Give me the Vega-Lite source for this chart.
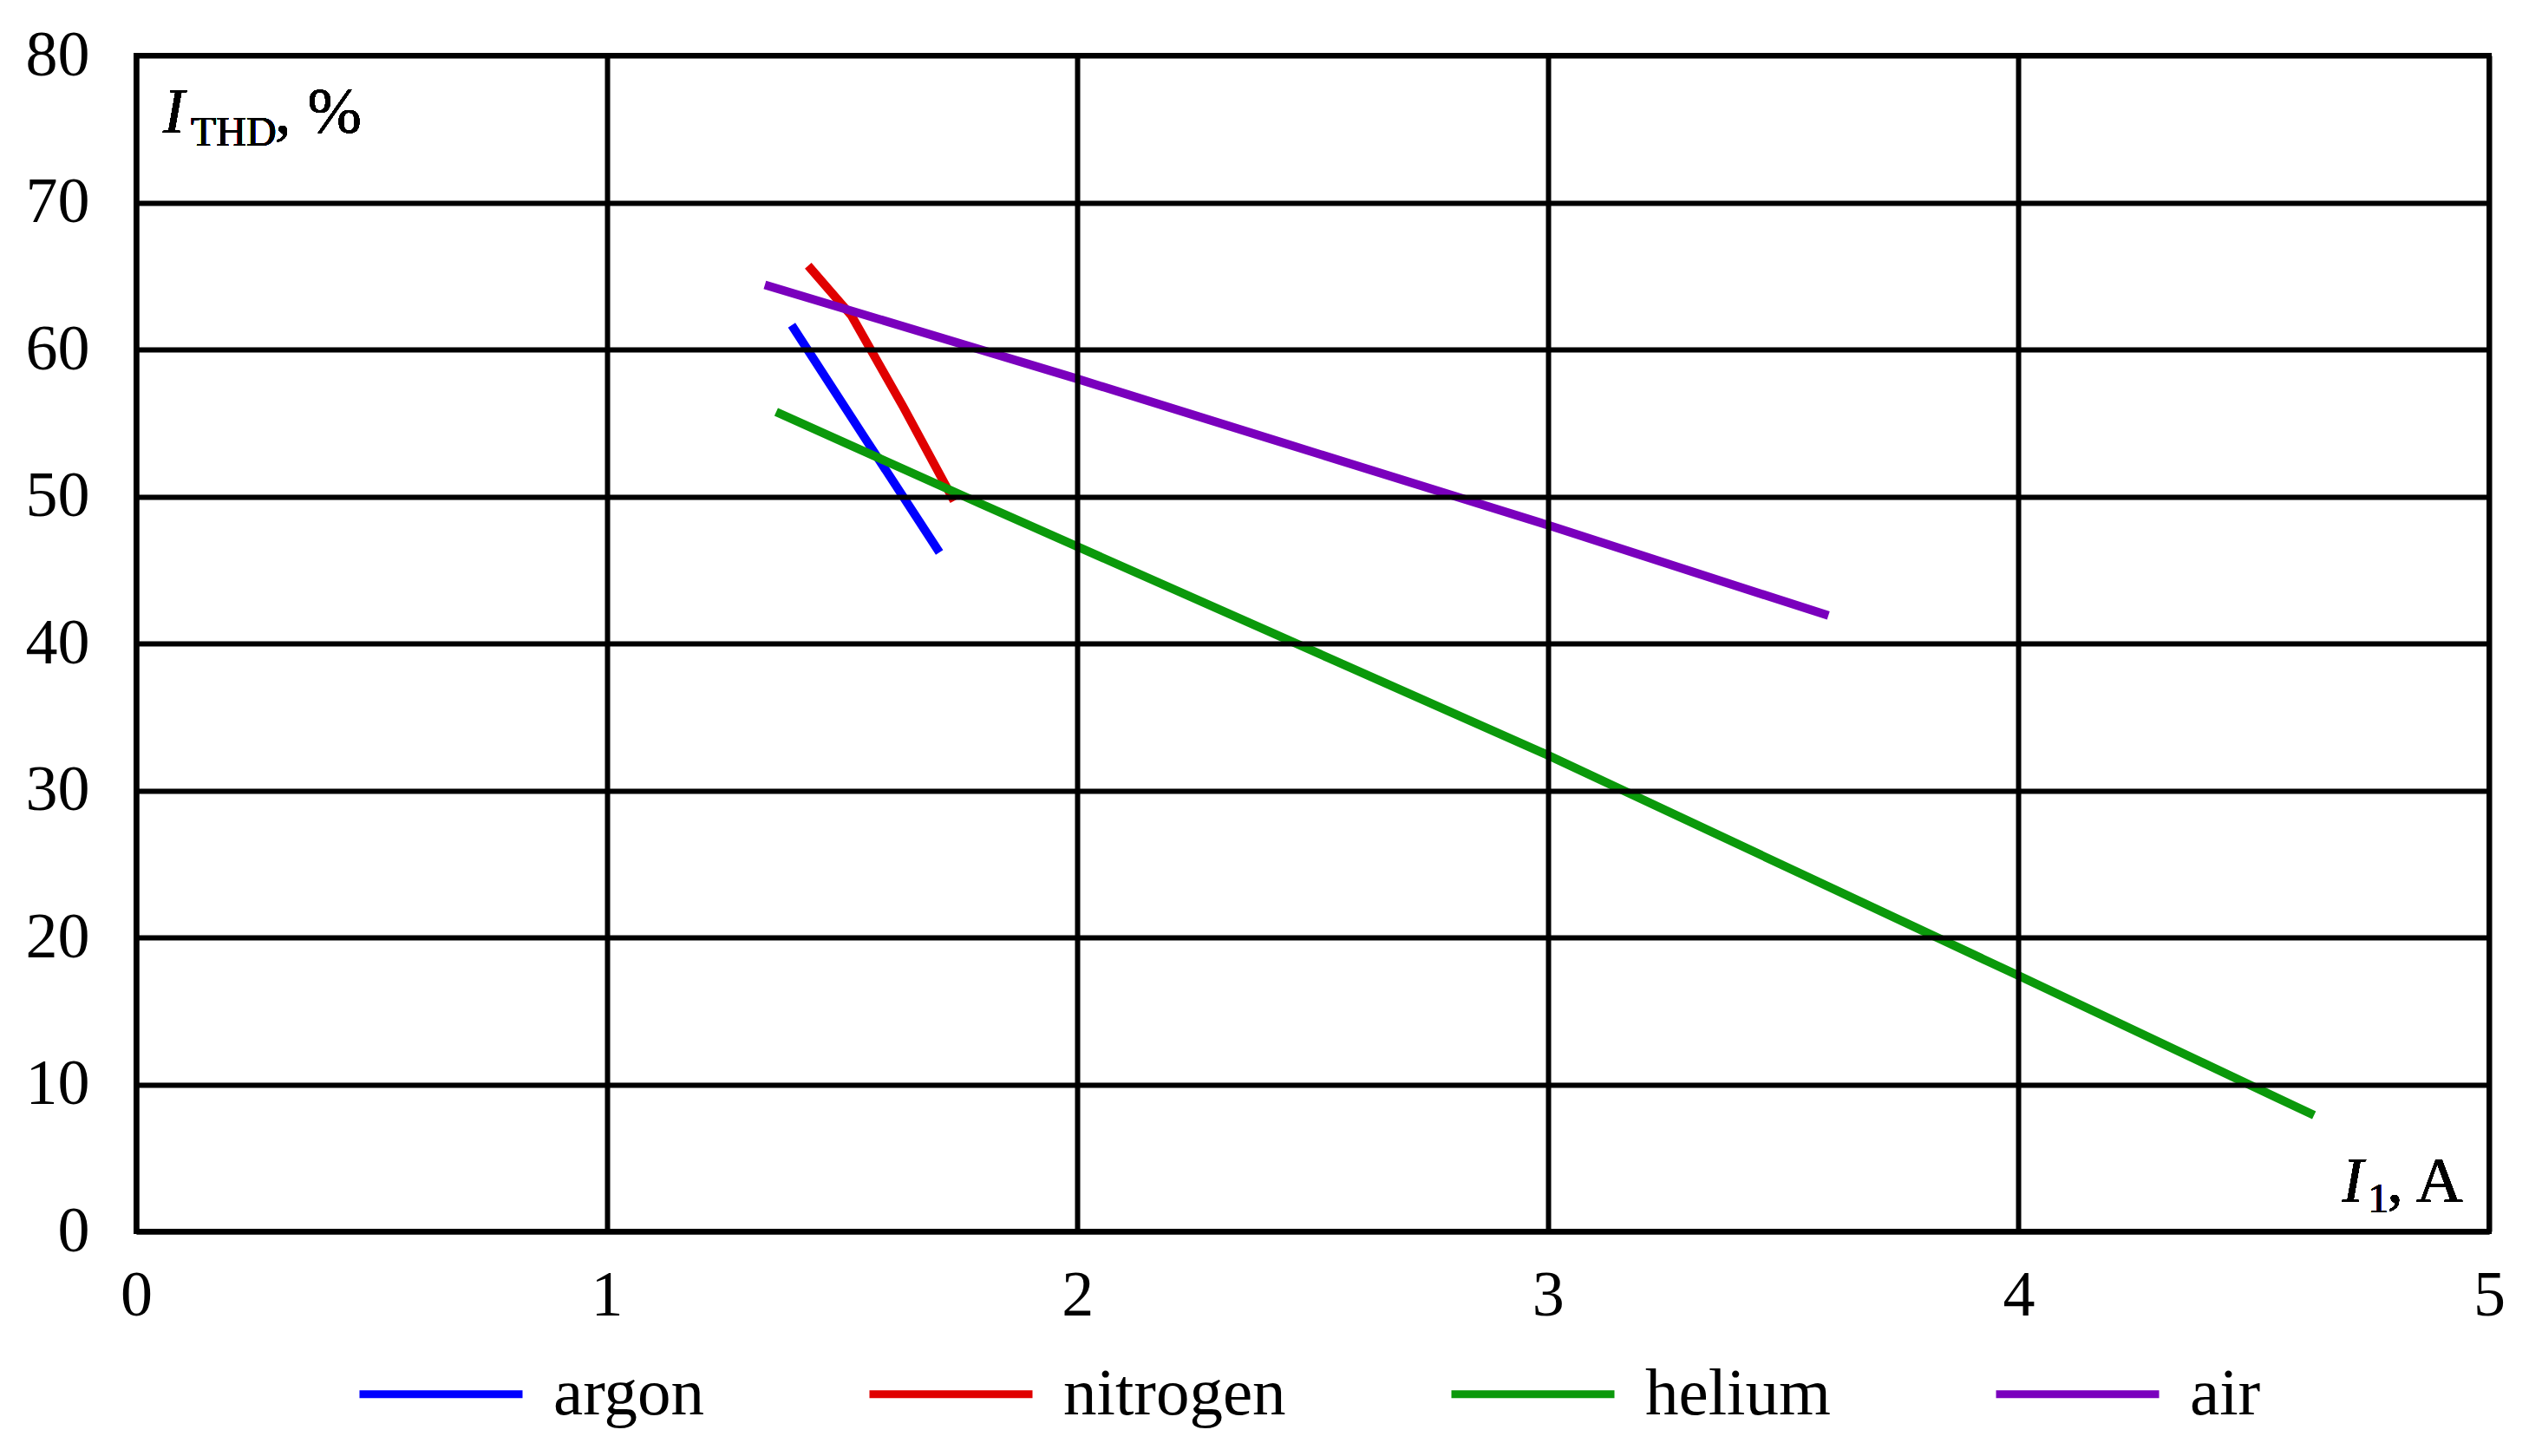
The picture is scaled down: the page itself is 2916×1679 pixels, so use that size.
{
  "$schema": "https://vega.github.io/schema/vega-lite/v6.json",
  "width": 2713,
  "height": 1356,
  "padding": {"left": 157, "top": 64, "right": 46, "bottom": 259},
  "autosize": {"type": "none"},
  "background": "white",
  "config": {
    "view": {"stroke": "black", "strokeWidth": 6},
    "font": "Liberation Serif"
  },
  "data": {
    "values": [
      {"gas": "argon", "I1": 1.393, "thd": 61.65},
      {"gas": "argon", "I1": 1.55, "thd": 53.9},
      {"gas": "argon", "I1": 1.707, "thd": 46.2},
      {"gas": "nitrogen", "I1": 1.428, "thd": 65.7},
      {"gas": "nitrogen", "I1": 1.52, "thd": 62.3},
      {"gas": "nitrogen", "I1": 1.63, "thd": 56.1},
      {"gas": "nitrogen", "I1": 1.738, "thd": 49.7},
      {"gas": "helium", "I1": 1.36, "thd": 55.75},
      {"gas": "helium", "I1": 1.795, "thd": 49.5},
      {"gas": "helium", "I1": 3.0, "thd": 32.4},
      {"gas": "helium", "I1": 4.0, "thd": 17.4},
      {"gas": "helium", "I1": 4.628, "thd": 7.9},
      {"gas": "air", "I1": 1.336, "thd": 64.4},
      {"gas": "air", "I1": 2.0, "thd": 58.0},
      {"gas": "air", "I1": 3.0, "thd": 48.05},
      {"gas": "air", "I1": 3.596, "thd": 41.9}
    ]
  },
  "layer": [
    {
      "mark": {"type": "line", "strokeWidth": 10, "strokeCap": "butt"},
      "encoding": {
        "x": {
          "field": "I1", "type": "quantitative",
          "scale": {"domain": [0, 5], "nice": false, "zero": false},
          "axis": {
            "title": null, "values": [0, 1, 2, 3, 4, 5], "format": "d",
            "grid": true, "gridColor": "black", "gridWidth": 6, "gridOpacity": 1,
            "domain": true, "domainColor": "black", "domainWidth": 6,
            "ticks": false, "labelFont": "Liberation Serif", "labelFontSize": 74,
            "labelColor": "black", "labelPadding": 38, "labelFlush": false,
            "labelOverlap": false, "zindex": 1
          }
        },
        "y": {
          "field": "thd", "type": "quantitative",
          "scale": {"domain": [0, 80], "nice": false, "zero": false},
          "axis": {
            "title": null, "values": [0, 10, 20, 30, 40, 50, 60, 70, 80], "format": "d",
            "grid": true, "gridColor": "black", "gridWidth": 6, "gridOpacity": 1,
            "domain": true, "domainColor": "black", "domainWidth": 6,
            "ticks": false, "labelFont": "Liberation Serif", "labelFontSize": 74,
            "labelColor": "black", "labelPadding": 54, "labelFlush": false,
            "labelOverlap": false, "zindex": 1
          }
        },
        "color": {
          "field": "gas", "type": "nominal",
          "scale": {
            "domain": ["argon", "nitrogen", "helium", "air"],
            "range": ["#0000ff", "#e00000", "#0b990b", "#7a00bd"]
          },
          "legend": {
            "title": null, "orient": "none", "direction": "horizontal",
            "legendX": 253, "legendY": 1445,
            "symbolType": "stroke", "symbolSize": 35344, "symbolStrokeWidth": 9,
            "labelFont": "Liberation Serif", "labelFontSize": 77, "labelColor": "black",
            "labelOffset": 31, "columnPadding": 172, "labelLimit": 1000, "padding": 0
          }
        }
      }
    },
    {
      "mark": {"type": "text", "font": "Liberation Serif", "fontStyle": "italic", "fontSize": 75, "align": "left", "baseline": "alphabetic", "color": "black", "text": "I"},
      "encoding": {"x": {"datum": 0.057}, "y": {"datum": 74.75}}
    },
    {
      "mark": {"type": "text", "font": "Liberation Serif", "fontSize": 48, "align": "left", "baseline": "alphabetic", "color": "black", "text": "THD", "dx": 32, "dy": 15},
      "encoding": {"x": {"datum": 0.057}, "y": {"datum": 74.75}}
    },
    {
      "mark": {"type": "text", "font": "Liberation Serif", "fontSize": 75, "align": "left", "baseline": "alphabetic", "color": "black", "text": ", %", "dx": 129},
      "encoding": {"x": {"datum": 0.057}, "y": {"datum": 74.75}}
    },
    {
      "mark": {"type": "text", "font": "Liberation Serif", "fontStyle": "italic", "fontSize": 75, "align": "left", "baseline": "alphabetic", "color": "black", "text": "I"},
      "encoding": {"x": {"datum": 4.687}, "y": {"datum": 2.0}}
    },
    {
      "mark": {"type": "text", "font": "Liberation Serif", "fontSize": 48, "align": "left", "baseline": "alphabetic", "color": "black", "text": "1", "dx": 30, "dy": 12},
      "encoding": {"x": {"datum": 4.687}, "y": {"datum": 2.0}}
    },
    {
      "mark": {"type": "text", "font": "Liberation Serif", "fontSize": 75, "align": "left", "baseline": "alphabetic", "color": "black", "text": ", A", "dx": 52},
      "encoding": {"x": {"datum": 4.687}, "y": {"datum": 2.0}}
    }
  ]
}
